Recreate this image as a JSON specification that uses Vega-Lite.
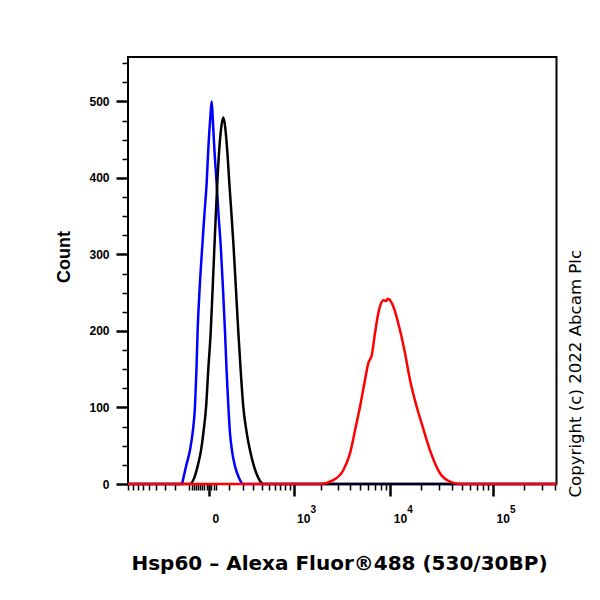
{
  "$schema": "https://vega.github.io/schema/vega-lite/v6.json",
  "autosize": {"type": "none"},
  "padding": {"left": 128, "top": 57, "right": 44, "bottom": 116},
  "width": 428.5,
  "height": 427,
  "background": "white",
  "config": {
    "view": {"stroke": "black", "strokeWidth": 2},
    "axis": {"domain": false, "grid": false, "tickColor": "black", "labelColor": "black", "titleColor": "black", "labelFlush": false, "labelOverlap": false}
  },
  "datasets": {
    "curves": [
      {"s": "blue", "x": -911.5, "count": 0},
      {"s": "blue", "x": -150, "count": 0},
      {"s": "blue", "x": -138, "count": 8},
      {"s": "blue", "x": -120, "count": 23},
      {"s": "blue", "x": -95, "count": 44},
      {"s": "blue", "x": -79, "count": 67},
      {"s": "blue", "x": -66, "count": 101},
      {"s": "blue", "x": -58, "count": 149},
      {"s": "blue", "x": -52, "count": 199},
      {"s": "blue", "x": -42, "count": 254},
      {"s": "blue", "x": -28, "count": 315},
      {"s": "blue", "x": -19, "count": 354},
      {"s": "blue", "x": -9.5, "count": 394},
      {"s": "blue", "x": -3, "count": 437},
      {"s": "blue", "x": 1, "count": 459},
      {"s": "blue", "x": 6, "count": 482},
      {"s": "blue", "x": 11, "count": 500},
      {"s": "blue", "x": 15, "count": 482},
      {"s": "blue", "x": 19, "count": 459},
      {"s": "blue", "x": 23, "count": 437},
      {"s": "blue", "x": 33, "count": 394},
      {"s": "blue", "x": 42, "count": 354},
      {"s": "blue", "x": 54, "count": 310},
      {"s": "blue", "x": 66, "count": 254},
      {"s": "blue", "x": 77, "count": 199},
      {"s": "blue", "x": 86, "count": 149},
      {"s": "blue", "x": 97, "count": 101},
      {"s": "blue", "x": 107, "count": 67},
      {"s": "blue", "x": 120, "count": 44},
      {"s": "blue", "x": 141, "count": 23},
      {"s": "blue", "x": 171, "count": 8},
      {"s": "blue", "x": 204, "count": 0},
      {"s": "blue", "x": 410400, "count": 0},
      {"s": "black", "x": -911.5, "count": 0},
      {"s": "black", "x": -95, "count": 0},
      {"s": "black", "x": -70, "count": 8},
      {"s": "black", "x": -52, "count": 23},
      {"s": "black", "x": -35, "count": 44},
      {"s": "black", "x": -24, "count": 67},
      {"s": "black", "x": -12, "count": 101},
      {"s": "black", "x": -3, "count": 149},
      {"s": "black", "x": 7, "count": 199},
      {"s": "black", "x": 15, "count": 254},
      {"s": "black", "x": 22.5, "count": 306},
      {"s": "black", "x": 29, "count": 349},
      {"s": "black", "x": 36.5, "count": 393},
      {"s": "black", "x": 46, "count": 437},
      {"s": "black", "x": 55, "count": 463},
      {"s": "black", "x": 67, "count": 479},
      {"s": "black", "x": 76, "count": 470},
      {"s": "black", "x": 85, "count": 450},
      {"s": "black", "x": 92, "count": 430},
      {"s": "black", "x": 103, "count": 393},
      {"s": "black", "x": 118, "count": 349},
      {"s": "black", "x": 131, "count": 310},
      {"s": "black", "x": 148, "count": 254},
      {"s": "black", "x": 165.5, "count": 199},
      {"s": "black", "x": 184, "count": 149},
      {"s": "black", "x": 206, "count": 101},
      {"s": "black", "x": 236.5, "count": 67},
      {"s": "black", "x": 268, "count": 44},
      {"s": "black", "x": 310, "count": 23},
      {"s": "black", "x": 359, "count": 8},
      {"s": "black", "x": 423, "count": 0},
      {"s": "black", "x": 410400, "count": 0},
      {"s": "red", "x": -911.5, "count": 0},
      {"s": "red", "x": 1948, "count": 0},
      {"s": "red", "x": 2680, "count": 5},
      {"s": "red", "x": 3393, "count": 18},
      {"s": "red", "x": 3968, "count": 40},
      {"s": "red", "x": 4457, "count": 70},
      {"s": "red", "x": 5002, "count": 101},
      {"s": "red", "x": 5612, "count": 136},
      {"s": "red", "x": 6054, "count": 158},
      {"s": "red", "x": 6543, "count": 168},
      {"s": "red", "x": 7055, "count": 197},
      {"s": "red", "x": 7607, "count": 223},
      {"s": "red", "x": 8219, "count": 238},
      {"s": "red", "x": 8600, "count": 240},
      {"s": "red", "x": 9061, "count": 239},
      {"s": "red", "x": 9400, "count": 242},
      {"s": "red", "x": 9765, "count": 241},
      {"s": "red", "x": 10690, "count": 232},
      {"s": "red", "x": 12440, "count": 201},
      {"s": "red", "x": 13927, "count": 171},
      {"s": "red", "x": 15588, "count": 136},
      {"s": "red", "x": 18121, "count": 101},
      {"s": "red", "x": 21017, "count": 72},
      {"s": "red", "x": 24424, "count": 44},
      {"s": "red", "x": 30555, "count": 14},
      {"s": "red", "x": 38216, "count": 3},
      {"s": "red", "x": 47790, "count": 0},
      {"s": "red", "x": 410400, "count": 0}
    ]
  },
  "data": {"name": "curves"},
  "layer": [
    {
      "transform": [{"filter": "datum.s == 'blue'"}],
      "mark": {"type": "line", "color": "#0000ff", "strokeWidth": 2.5, "interpolate": "monotone"},
      "encoding": {
        "x": {
          "field": "x", "type": "quantitative",
          "scale": {"type": "symlog", "constant": 180, "domain": [-911.5, 410400], "nice": false, "zero": false},
          "axis": {
            "orient": "bottom",
            "values": [0, 1000, 10000, 100000],
            "tickSize": 12, "tickWidth": 2.5,
            "labelExpr": "datum.value == 0 ? '0' : '10'",
            "labelFont": "Liberation Sans", "labelFontWeight": "bold", "labelFontSize": 12,
            "labelAlign": "left", "labelBaseline": "alphabetic", "labelOffset": 3, "labelPadding": 26,
            "title": "Hsp60 – Alexa Fluor®488 (530/30BP)",
            "titleFont": "DejaVu Sans", "titleFontWeight": "bold", "titleFontSize": 20,
            "titleX": 211, "titleY": 85, "titleAlign": "center", "titleBaseline": "alphabetic"
          }
        },
        "y": {
          "field": "count", "type": "quantitative",
          "scale": {"domain": [0, 558], "nice": false, "zero": false},
          "axis": {
            "orient": "left",
            "values": [0, 100, 200, 300, 400, 500],
            "tickSize": 12, "tickWidth": 2.5,
            "labelFont": "Liberation Sans", "labelFontWeight": "bold", "labelFontSize": 12, "labelPadding": 7,
            "title": "Count",
            "titleFont": "Liberation Sans", "titleFontWeight": "bold", "titleFontSize": 18,
            "titleAngle": 270, "titleX": -59, "titleY": 199.5, "titleAlign": "center", "titleBaseline": "alphabetic"
          }
        }
      }
    },
    {
      "transform": [{"filter": "datum.s == 'black'"}],
      "mark": {"type": "line", "color": "#000000", "strokeWidth": 2.5, "interpolate": "monotone"},
      "encoding": {
        "x": {
          "field": "x", "type": "quantitative",
          "scale": {"type": "symlog", "constant": 180, "domain": [-911.5, 410400], "nice": false, "zero": false},
          "axis": {
            "orient": "bottom",
            "values": [-900, -800, -700, -600, -500, -400, -300, -200, -100, -80, -70, -60, -50, -40, -30, -20, -10, 10, 20, 30, 100, 200, 300, 400, 500, 600, 700, 800, 900, 2000, 3000, 4000, 5000, 6000, 7000, 8000, 9000, 20000, 30000, 40000, 50000, 60000, 70000, 80000, 90000, 200000, 300000, 400000],
            "tickSize": 6, "tickWidth": 1.5, "labels": false, "title": null
          }
        },
        "y": {
          "field": "count", "type": "quantitative",
          "scale": {"domain": [0, 558], "nice": false, "zero": false},
          "axis": {
            "orient": "left",
            "values": [25, 50, 75, 125, 150, 175, 225, 250, 275, 325, 350, 375, 425, 450, 475, 525, 550],
            "tickSize": 6, "tickWidth": 1.5, "labels": false, "title": null
          }
        }
      }
    },
    {
      "transform": [{"filter": "datum.s == 'red'"}],
      "mark": {"type": "line", "color": "#ff0000", "strokeWidth": 2.5, "interpolate": "monotone"},
      "encoding": {
        "x": {
          "field": "x", "type": "quantitative",
          "scale": {"type": "symlog", "constant": 180, "domain": [-911.5, 410400], "nice": false, "zero": false},
          "axis": {
            "orient": "bottom",
            "values": [1000, 10000, 100000],
            "ticks": false,
            "labelExpr": "datum.value == 1000 ? '3' : datum.value == 10000 ? '4' : '5'",
            "labelFont": "Liberation Sans", "labelFontWeight": "bold", "labelFontSize": 10,
            "labelAlign": "left", "labelBaseline": "alphabetic", "labelOffset": 16.5, "labelPadding": 28,
            "title": null
          }
        },
        "y": {
          "field": "count", "type": "quantitative",
          "scale": {"domain": [0, 558], "nice": false, "zero": false},
          "axis": {
            "orient": "right",
            "ticks": false, "labels": false,
            "title": "Copyright (c) 2022 Abcam Plc",
            "titleFont": "DejaVu Sans", "titleFontWeight": "normal", "titleFontSize": 16.6,
            "titleAngle": 270, "titleX": 23.5, "titleY": 440, "titleAlign": "left", "titleBaseline": "alphabetic"
          }
        }
      }
    }
  ],
  "resolve": {"axis": {"x": "independent", "y": "independent"}}
}
